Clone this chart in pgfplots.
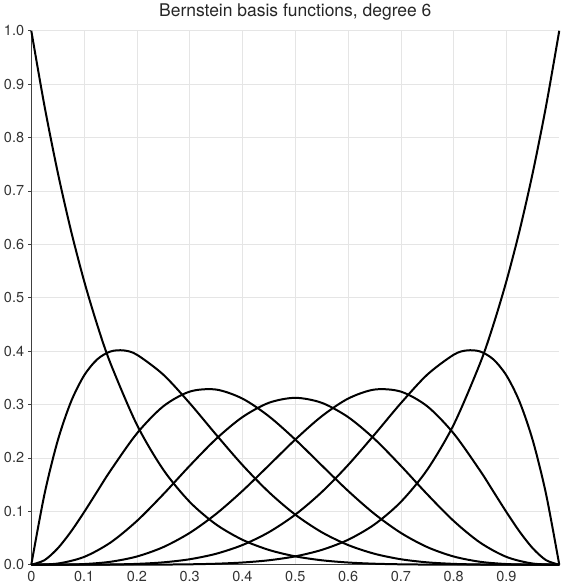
\documentclass[border=0pt]{standalone}
\usepackage{pgfplots}
\pgfplotsset{compat=1.18}
\usepackage{fontspec}
\setmainfont{TeX Gyre Heros}
\begin{document}
\begin{tikzpicture}
\begin{axis}[
  scale only axis,
  width=529bp, height=535bp,
  xmin=0, xmax=1, ymin=0, ymax=1,
  axis lines=left,
  axis line style={draw=black!75, line width=0.8bp, -},
  xtick={0,0.1,0.2,0.3,0.4,0.5,0.6,0.7,0.8,0.9},
  xticklabels={0,0.1,0.2,0.3,0.4,0.5,0.6,0.7,0.8,0.9},
  ytick={0,0.1,0.2,0.3,0.4,0.5,0.6,0.7,0.8,0.9,1.0},
  yticklabel style={inner xsep=4bp, /pgf/number format/.cd,fixed,fixed zerofill,precision=1},
  /pgf/number format/assume math mode=true,
  ticklabel style={font=\fontsize{14.5bp}{16bp}\selectfont, text=black!80},
  xtick style={draw=none},
  ytick style={draw=black!75, line width=0.6bp},
  tick align=outside,
  major tick length=3bp,
  grid=major,
  major grid style={draw=black!10, line width=0.6bp},
  title={Bernstein basis functions, degree 6},
  title style={font=\fontsize{17.5bp}{20bp}\selectfont, text=black!85, inner sep=4bp},
  clip=false,
]
% B0
\addplot[black, line width=2bp, smooth] coordinates {(0,1) (0.025,0.859068) (0.05,0.735092) (0.075,0.626398) (0.1,0.531441) (0.125,0.448795) (0.15,0.377150) (0.2,0.262144) (0.25,0.177979) (0.3,0.117649) (0.35,0.075419) (0.4,0.046656) (0.45,0.027681) (0.5,0.015625) (0.55,0.008304) (0.6,0.004096) (0.65,0.001838) (0.7,0.000729) (0.75,0.000244) (0.8,0.000064) (0.85,0.000011) (0.9,0.000001) (0.95,0) (1,0)};
% B1
\addplot[black, line width=2bp, smooth] coordinates {(0,0) (0.025,0.132164) (0.05,0.232134) (0.075,0.304734) (0.1,0.354294) (0.125,0.384682) (0.15,0.399335) (0.175,0.401291) (0.2,0.393216) (0.25,0.355957) (0.3,0.302526) (0.35,0.243661) (0.4,0.186624) (0.45,0.135887) (0.5,0.09375) (0.55,0.060894) (0.6,0.036864) (0.65,0.020484) (0.7,0.010206) (0.75,0.004395) (0.8,0.001536) (0.85,0.000387) (0.9,0.000054) (0.95,0.000002) (1,0)};
% B2
\addplot[black, line width=2bp, smooth] coordinates {(0,0) (0.025,0.008472) (0.05,0.030544) (0.075,0.061770) (0.1,0.098415) (0.125,0.137386) (0.15,0.176177) (0.2,0.24576) (0.25,0.296631) (0.3,0.324135) (0.35,0.328005) (0.4,0.31104) (0.45,0.277950) (0.5,0.234375) (0.55,0.186066) (0.6,0.13824) (0.65,0.095102) (0.7,0.059535) (0.75,0.032959) (0.8,0.01536) (0.85,0.005487) (0.9,0.001215) (0.95,0.000085) (1,0)};
% B3
\addplot[black, line width=2bp, smooth] coordinates {(0,0) (0.05,0.002143) (0.1,0.01458) (0.15,0.041453) (0.2,0.08192) (0.25,0.131836) (0.3,0.18522) (0.35,0.235491) (0.4,0.27648) (0.45,0.303218) (0.5,0.3125) (0.55,0.303218) (0.6,0.27648) (0.65,0.235491) (0.7,0.18522) (0.75,0.131836) (0.8,0.08192) (0.85,0.041453) (0.9,0.01458) (0.95,0.002143) (1,0)};
% B4
\addplot[black, line width=2bp, smooth] coordinates {(0,0) (0.05,0.000085) (0.1,0.001215) (0.15,0.005487) (0.2,0.01536) (0.25,0.032959) (0.3,0.059535) (0.35,0.095102) (0.4,0.13824) (0.45,0.186066) (0.5,0.234375) (0.55,0.277950) (0.6,0.31104) (0.65,0.328005) (0.7,0.324135) (0.75,0.296631) (0.8,0.24576) (0.85,0.176177) (0.875,0.137386) (0.9,0.098415) (0.925,0.061770) (0.95,0.030544) (0.975,0.008472) (1,0)};
% B5
\addplot[black, line width=2bp, smooth] coordinates {(0,0) (0.05,0.000002) (0.1,0.000054) (0.15,0.000387) (0.2,0.001536) (0.25,0.004395) (0.3,0.010206) (0.35,0.020484) (0.4,0.036864) (0.45,0.060894) (0.5,0.09375) (0.55,0.135887) (0.6,0.186624) (0.65,0.243661) (0.7,0.302526) (0.75,0.355957) (0.8,0.393216) (0.825,0.401291) (0.85,0.399335) (0.875,0.384682) (0.9,0.354294) (0.925,0.304734) (0.95,0.232134) (0.975,0.132164) (1,0)};
% B6
\addplot[black, line width=2bp, smooth] coordinates {(0,0) (0.05,0) (0.1,0.000001) (0.15,0.000011) (0.2,0.000064) (0.25,0.000244) (0.3,0.000729) (0.35,0.001838) (0.4,0.004096) (0.45,0.008304) (0.5,0.015625) (0.55,0.027681) (0.6,0.046656) (0.65,0.075419) (0.7,0.117649) (0.75,0.177979) (0.8,0.262144) (0.85,0.377150) (0.875,0.448795) (0.9,0.531441) (0.925,0.626398) (0.95,0.735092) (0.975,0.859068) (1,1)};
\end{axis}
\end{tikzpicture}
\end{document}
